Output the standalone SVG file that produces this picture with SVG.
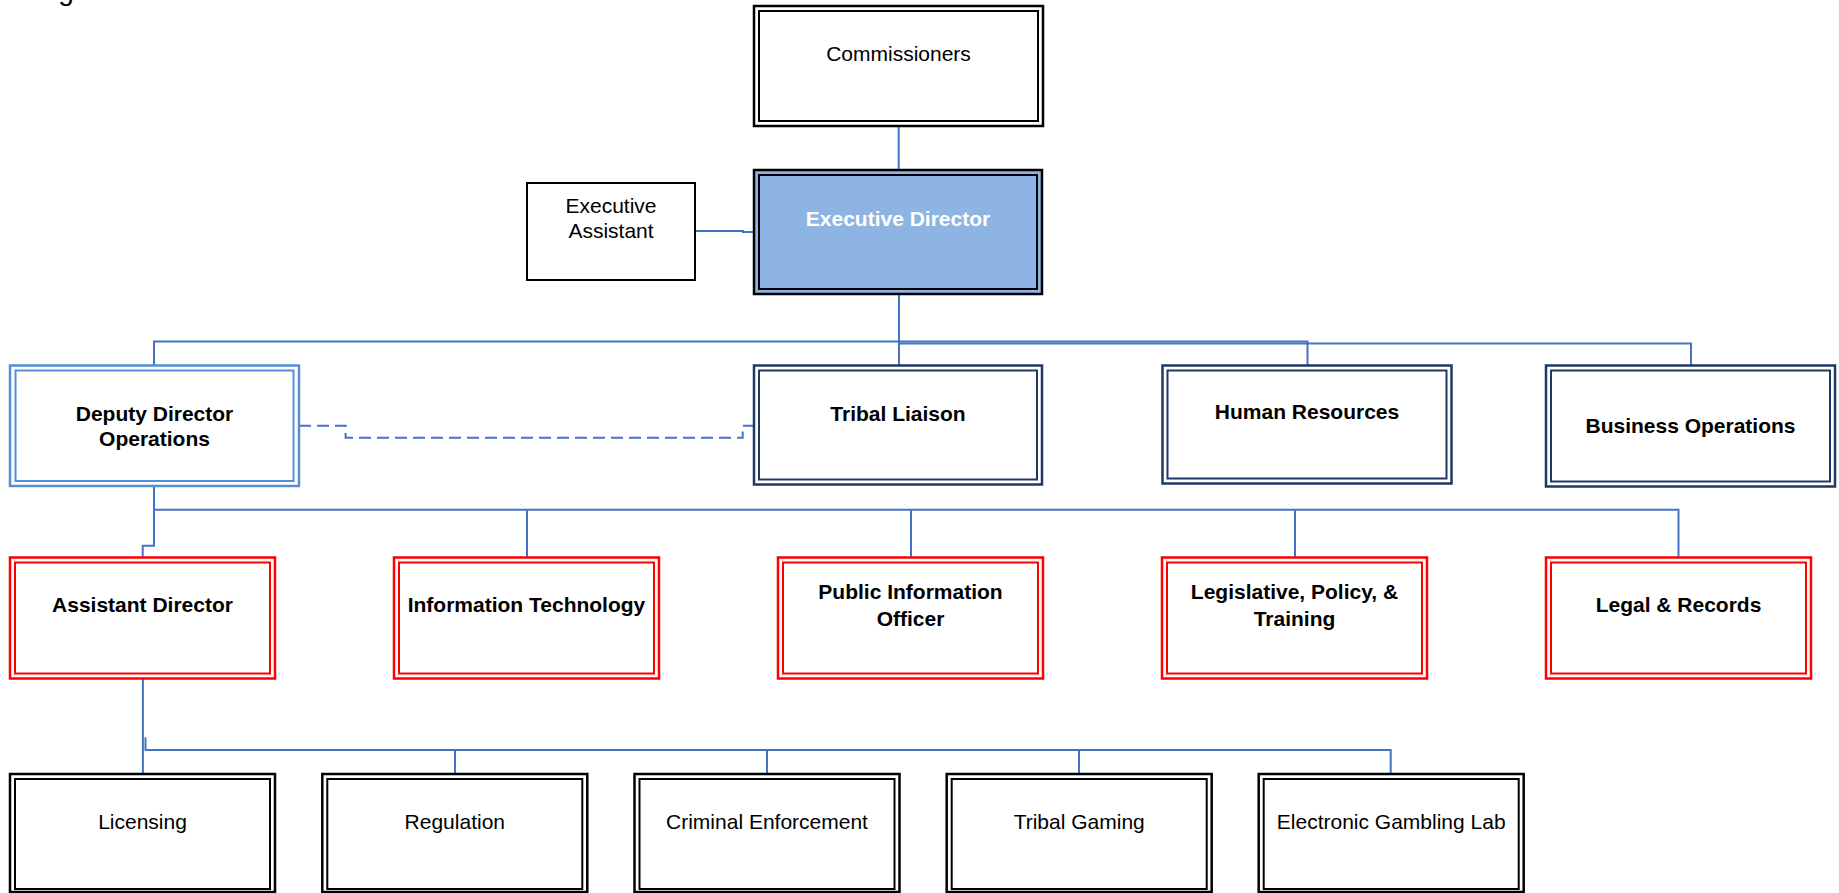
<svg xmlns="http://www.w3.org/2000/svg" width="1839" height="893" viewBox="0 0 1839 893">
<style>
text{font-family:"Liberation Sans",Arial,sans-serif;font-size:21px;text-anchor:middle;fill:#000}
.b{font-weight:bold}
.w{fill:#fff}
.o{fill:#fff;stroke-width:2.5}
.i{fill:none;stroke-width:2}
.k{stroke:#000}
.n{stroke:#1F3864}
.lb{stroke:#558ED5}
.r{stroke:#FF0000}
.c{fill:none;stroke:#4472C4;stroke-width:2}
.d{stroke-dasharray:12 6}
</style>
<rect width="1839" height="893" fill="#fff"/>
<text x="66" y="-0.5" style="font-size:28px;text-anchor:middle">g</text>

<g id="connectors">
<path class="c" d="M898.7,126 V170"/>
<path class="c" d="M695,231 H743 V232 H754"/>
<path class="c" d="M899,294 V365.5"/>
<path class="c" d="M154,365.5 V341.5 H1307.5 V365.5"/>
<path class="c" d="M899,343.5 H1691 V365.5"/>
<path class="c d" d="M299,425.7 H345.6 V437.7 H742.7 V425.7 H754"/>
<path class="c" d="M154,486 V545.7 H142.7 V557.5"/>
<path class="c" d="M154,509.7 H1678.5 V557.5"/>
<path class="c" d="M527,509.7 V557.5"/>
<path class="c" d="M911,509.7 V557.5"/>
<path class="c" d="M1295,509.7 V557.5"/>
<path class="c" d="M142.9,678.5 V774"/>
<path class="c" d="M145.5,737.3 V750 H1390.7 V774"/>
<path class="c" d="M455,750 V774"/>
<path class="c" d="M767,750 V774"/>
<path class="c" d="M1079,750 V774"/>
</g>

<g id="commissioners">
<rect class="o k" x="754" y="6" width="289" height="120"/>
<rect class="i k" x="759" y="11" width="279" height="110"/>
<text x="898.5" y="60.5">Commissioners</text>
</g>

<g id="executive-director">
<rect x="754" y="170" width="288" height="124" fill="#8EB4E3" stroke="#000" stroke-width="2.5"/>
<rect class="i k" x="759" y="175" width="278" height="114"/>
<text class="b w" x="898" y="226">Executive Director</text>
</g>

<g id="executive-assistant">
<rect x="527" y="183" width="168" height="97" fill="#fff" stroke="#000" stroke-width="2"/>
<text x="611" y="212.5">Executive</text>
<text x="611" y="238">Assistant</text>
</g>

<g id="deputy-director">
<rect class="o lb" x="10" y="365.5" width="289" height="120.5"/>
<rect class="i lb" x="15.5" y="370.5" width="278" height="110.5"/>
<text class="b" x="154.5" y="420.5">Deputy Director</text>
<text class="b" x="154.5" y="445.5">Operations</text>
</g>

<g id="tribal-liaison">
<rect class="o n" x="754" y="365.5" width="288" height="119"/>
<rect class="i n" x="759" y="370.5" width="278" height="109"/>
<text class="b" x="898" y="420.5">Tribal Liaison</text>
</g>

<g id="human-resources">
<rect class="o n" x="1162.5" y="365.5" width="289" height="118"/>
<rect class="i n" x="1167.5" y="370.5" width="279" height="108"/>
<text class="b" x="1307" y="418.5">Human Resources</text>
</g>

<g id="business-operations">
<rect class="o n" x="1546" y="365.5" width="289" height="121"/>
<rect class="i n" x="1551" y="370.5" width="279" height="111"/>
<text class="b" x="1690.5" y="433">Business Operations</text>
</g>

<g id="assistant-director">
<rect class="o r" x="10" y="557.5" width="265" height="121"/>
<rect class="i r" x="15" y="562.5" width="255" height="111"/>
<text class="b" x="142.5" y="612">Assistant Director</text>
</g>

<g id="information-technology">
<rect class="o r" x="394" y="557.5" width="265" height="121"/>
<rect class="i r" x="399" y="562.5" width="255" height="111"/>
<text class="b" x="526.5" y="612">Information Technology</text>
</g>

<g id="public-information-officer">
<rect class="o r" x="778" y="557.5" width="265" height="121"/>
<rect class="i r" x="783" y="562.5" width="255" height="111"/>
<text class="b" x="910.5" y="598.5">Public Information</text>
<text class="b" x="910.5" y="625.5">Officer</text>
</g>

<g id="legislative-policy-training">
<rect class="o r" x="1162" y="557.5" width="265" height="121"/>
<rect class="i r" x="1167" y="562.5" width="255" height="111"/>
<text class="b" x="1294.5" y="598.5">Legislative, Policy, &amp;</text>
<text class="b" x="1294.5" y="625.5">Training</text>
</g>

<g id="legal-records">
<rect class="o r" x="1546" y="557.5" width="265" height="121"/>
<rect class="i r" x="1551" y="562.5" width="255" height="111"/>
<text class="b" x="1678.5" y="612">Legal &amp; Records</text>
</g>

<g id="licensing">
<rect class="o k" x="10" y="774" width="265" height="118"/>
<rect class="i k" x="15" y="779" width="255" height="110"/>
<text x="142.5" y="828.5">Licensing</text>
</g>

<g id="regulation">
<rect class="o k" x="322.3" y="774" width="265" height="118"/>
<rect class="i k" x="327.3" y="779" width="255" height="110"/>
<text x="454.8" y="828.5">Regulation</text>
</g>

<g id="criminal-enforcement">
<rect class="o k" x="634.5" y="774" width="265" height="118"/>
<rect class="i k" x="639.5" y="779" width="255" height="110"/>
<text x="767" y="828.5">Criminal Enforcement</text>
</g>

<g id="tribal-gaming">
<rect class="o k" x="946.7" y="774" width="265" height="118"/>
<rect class="i k" x="951.7" y="779" width="255" height="110"/>
<text x="1079.2" y="828.5">Tribal Gaming</text>
</g>

<g id="electronic-gambling-lab">
<rect class="o k" x="1258.7" y="774" width="265" height="118"/>
<rect class="i k" x="1263.7" y="779" width="255" height="110"/>
<text x="1391.2" y="828.5">Electronic Gambling Lab</text>
</g>
</svg>
